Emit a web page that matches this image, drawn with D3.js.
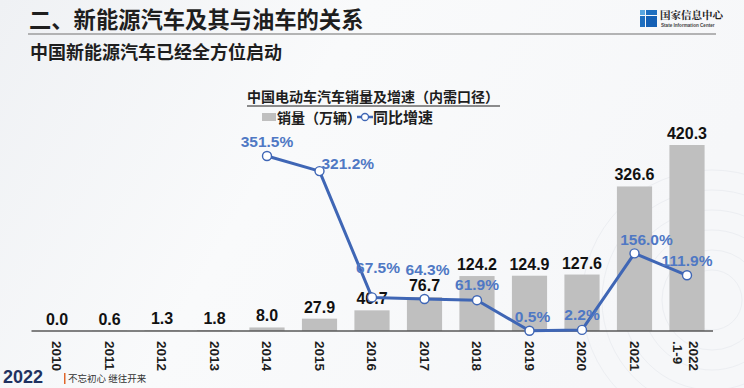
<!DOCTYPE html>
<html>
<head>
<meta charset="utf-8">
<script src="https://cdn.jsdelivr.net/npm/d3@7"></script>
<style>
  html, body { margin: 0; padding: 0; background: #fff; }
  svg { display: block; }
</style>
</head>
<body>
<div id="chart"></div>
<script>
// data
const years = ['2010', '2011', '2012', '2013', '2014', '2015', '2016', '2017', '2018', '2019', '2020', '2021', '2022'];
const yearLabels = [['2010'], ['2011'], ['2012'], ['2013'], ['2014'], ['2015'], ['2016'], ['2017'], ['2018'], ['2019'], ['2020'], ['2021'], ['2022', '.1-9']];
const sales = [0.0, 0.6, 1.3, 1.8, 8.0, 27.9, 46.7, 76.7, 124.2, 124.9, 127.6, 326.6, 420.3];
const growth = [null, null, null, null, 351.5, 321.2, 67.5, 64.3, 61.9, 0.5, 2.2, 156.0, 111.9];

const W = 744, H = 388;
const axisY = 331;
const numFont = '"Liberation Sans", Arial, sans-serif';
const cjkFont = '"Noto Sans CJK SC", "Noto Sans", sans-serif';

const svg = d3.select('#chart')
  .append('svg')
  .attr('width', W)
  .attr('height', H);

// background
const defs = svg.append('defs');
const bg = defs.append('linearGradient').attr('id', 'bg').attr('x1', 0).attr('y1', 0).attr('x2', 1).attr('y2', 0.3);
bg.append('stop').attr('offset', '0%').attr('stop-color', '#eff1f4');
bg.append('stop').attr('offset', '45%').attr('stop-color', '#f9fafb');
bg.append('stop').attr('offset', '100%').attr('stop-color', '#f6f7f9');
svg.append('rect').attr('width', W).attr('height', H).attr('fill', 'url(#bg)');

// faint rings bottom right
[30, 50, 70, 90, 110, 130].forEach(r => {
  svg.append('circle')
    .attr('cx', 712).attr('cy', 300).attr('r', r)
    .attr('fill', 'none').attr('stroke', '#eceef2').attr('stroke-width', 1);
});

// header
svg.append('text')
  .attr('x', 29).attr('y', 28)
  .attr('font-family', cjkFont).attr('font-weight', 700).attr('font-size', 22.3)
  .attr('fill', '#1e1e1e')
  .text('二、新能源汽车及其与油车的关系');

svg.append('line')
  .attr('x1', 28).attr('x2', 716).attr('y1', 34).attr('y2', 34)
  .attr('stroke', '#9c9c9c').attr('stroke-width', 1.5);

svg.append('text')
  .attr('x', 30).attr('y', 59)
  .attr('font-family', cjkFont).attr('font-weight', 700).attr('font-size', 18)
  .attr('fill', '#1e1e1e')
  .text('中国新能源汽车已经全方位启动');

// logo top right
const logo = svg.append('g');
logo.append('rect').attr('x', 640).attr('y', 10).attr('width', 5).attr('height', 5).attr('fill', '#5aa6e0');
logo.append('rect').attr('x', 646).attr('y', 10).attr('width', 11).attr('height', 5).attr('fill', '#1f6fc0');
logo.append('rect').attr('x', 640).attr('y', 16).attr('width', 5).attr('height', 11).attr('fill', '#1f6fc0');
logo.append('rect').attr('x', 646).attr('y', 16).attr('width', 11).attr('height', 11).attr('fill', '#1560b5');
logo.append('text')
  .attr('x', 660).attr('y', 19)
  .attr('font-family', '"Noto Serif CJK SC", ' + cjkFont).attr('font-weight', 700).attr('font-size', 10.5)
  .attr('fill', '#222')
  .text('国家信息中心');
logo.append('text')
  .attr('x', 661).attr('y', 27)
  .attr('font-family', numFont).attr('font-weight', 700).attr('font-size', 4.6)
  .attr('fill', '#444')
  .text('State Information Center');

// chart title + legend
svg.append('text')
  .attr('x', 247).attr('y', 102)
  .attr('font-family', cjkFont).attr('font-weight', 700).attr('font-size', 14)
  .attr('fill', '#1e1e1e')
  .text('中国电动车汽车销量及增速（内需口径）');
svg.append('line')
  .attr('x1', 247).attr('x2', 500).attr('y1', 106).attr('y2', 106)
  .attr('stroke', '#1e1e1e').attr('stroke-width', 1.2);

const legend = svg.append('g');
legend.append('rect')
  .attr('x', 262).attr('y', 113).attr('width', 14).attr('height', 8)
  .attr('fill', '#bfbfbf');
legend.append('text')
  .attr('x', 277).attr('y', 123)
  .attr('font-family', cjkFont).attr('font-weight', 700).attr('font-size', 14)
  .attr('fill', '#1e1e1e')
  .text('销量（万辆）');
legend.append('line')
  .attr('x1', 357).attr('x2', 373).attr('y1', 117).attr('y2', 117)
  .attr('stroke', '#3f66b5').attr('stroke-width', 2.5);
legend.append('circle')
  .attr('cx', 365).attr('cy', 117).attr('r', 3.5)
  .attr('fill', '#fff').attr('stroke', '#3f66b5').attr('stroke-width', 1.3);
legend.append('text')
  .attr('x', 373).attr('y', 123)
  .attr('font-family', cjkFont).attr('font-weight', 700).attr('font-size', 15)
  .attr('fill', '#1e1e1e')
  .text('同比增速');

// scales
const x = d3.scaleBand()
  .domain(years)
  .range([30.75, 713.25])
  .paddingInner(0.33)
  .paddingOuter(0.165);

const yBar = d3.scaleLinear()
  .domain([0, 420.3])
  .range([axisY, 145]);

const yLine = d3.scaleLinear()
  .domain([0, 351.5])
  .range([axisY, 156]);

const g = svg.append('g');

// bars
g.selectAll('.bar')
  .data(sales)
  .enter().append('rect')
  .attr('class', 'bar')
  .attr('x', (d, i) => x(years[i]))
  .attr('width', x.bandwidth())
  .attr('y', d => yBar(d))
  .attr('height', d => axisY - yBar(d))
  .attr('fill', '#bfbfbf');

g.selectAll('.bar-label')
  .data(sales)
  .enter().append('text')
  .attr('class', 'bar-label')
  .attr('x', (d, i) => x(years[i]) + x.bandwidth() / 2)
  .attr('y', d => yBar(d) - 6)
  .attr('text-anchor', 'middle')
  .attr('font-family', numFont).attr('font-weight', 700).attr('font-size', 16)
  .attr('fill', '#111')
  .text(d => d.toFixed(1));

// x axis
const xAxis = g.append('g')
  .attr('transform', 'translate(0,' + axisY + ')')
  .call(d3.axisBottom(x).tickSize(0).tickFormat(''));
xAxis.select('.domain')
  .attr('d', 'M31.5,0H713')
  .attr('stroke', '#595959').attr('stroke-width', 1.6);

g.selectAll('.year')
  .data(yearLabels)
  .enter().append('text')
  .attr('class', 'year')
  .attr('transform', (d, i) => 'translate(' + (x(years[i]) + x.bandwidth() / 2 + (d.length > 1 ? 7 : 0)) + ',341) rotate(90)')
  .attr('font-family', numFont).attr('font-weight', 700).attr('font-size', 13.5)
  .attr('fill', '#1e1e1e')
  .selectAll('tspan')
  .data(d => d)
  .enter().append('tspan')
  .attr('x', 0)
  .attr('dy', (d, j) => j === 0 ? '0.36em' : '1.2em')
  .text(d => d);

// growth line
const pts = growth.map((v, i) => ({ year: years[i], v: v })).filter(d => d.v !== null);
const cx = d => x(d.year) + x.bandwidth() / 2;

const line = d3.line()
  .x(cx)
  .y(d => yLine(d.v));

g.append('path')
  .datum(pts)
  .attr('fill', 'none')
  .attr('stroke', '#3f66b5')
  .attr('stroke-width', 3)
  .attr('stroke-linejoin', 'round')
  .attr('d', line);

g.selectAll('.pt')
  .data(pts)
  .enter().append('circle')
  .attr('class', 'pt')
  .attr('cx', cx)
  .attr('cy', d => yLine(d.v))
  .attr('r', 4.5)
  .attr('fill', '#fff')
  .attr('stroke', '#3f66b5')
  .attr('stroke-width', 1.4);

// label nudges so the percentages clear the bar values
const nudge = {
  '2015': { dx: 2, dy: -2, anchor: 'start' },
  '2016': { dx: 6, dy: -24 },
  '2017': { dx: 3, dy: -24 },
  '2018': { dx: 0, dy: -10 },
  '2019': { dx: 3, dy: -9 },
  '2021': { dx: 12, dy: -8 }
};

g.selectAll('.pct')
  .data(pts)
  .enter().append('text')
  .attr('class', 'pct')
  .attr('x', d => cx(d) + (nudge[d.year] ? nudge[d.year].dx : 0))
  .attr('y', d => yLine(d.v) + (nudge[d.year] ? nudge[d.year].dy : -9.5))
  .attr('text-anchor', d => nudge[d.year] && nudge[d.year].anchor ? nudge[d.year].anchor : 'middle')
  .attr('font-family', numFont).attr('font-weight', 700).attr('font-size', 15.5)
  .attr('fill', '#4f78c4')
  .text(d => d.v.toFixed(1) + '%');

// footer
svg.append('text')
  .attr('x', 3).attr('y', 383)
  .attr('font-family', numFont).attr('font-weight', 700).attr('font-size', 18)
  .attr('fill', '#1f3160')
  .text('2022');
svg.append('rect')
  .attr('x', 64).attr('y', 373).attr('width', 1.5).attr('height', 11)
  .attr('fill', '#e0662a');
svg.append('text')
  .attr('x', 68).attr('y', 382)
  .attr('font-family', cjkFont).attr('font-size', 9.5)
  .attr('fill', '#333')
  .text('不忘初心 继往开来');
</script>
</body>
</html>
